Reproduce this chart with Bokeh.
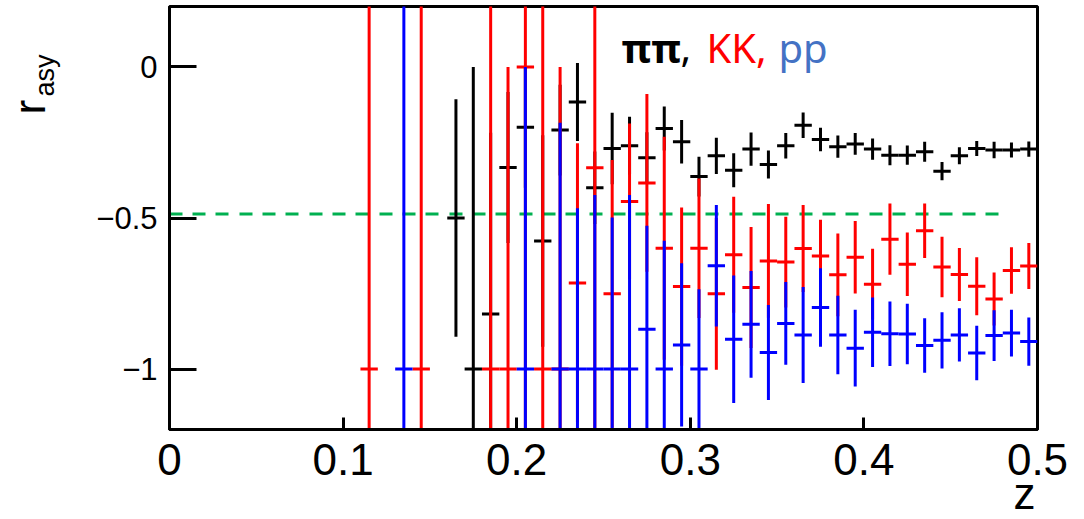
import numpy as np
from bokeh.plotting import figure
from bokeh.models import Range1d, FixedTicker, Label, ColumnDataSource
from bokeh.embed import file_html
from bokeh.resources import INLINE

# ---------------- data ----------------
BIN_HALF = 0.005

pipi_z = [0.165, 0.175, 0.185, 0.195, 0.205, 0.215, 0.225, 0.235, 0.245, 0.255,
          0.265, 0.275, 0.285, 0.295, 0.305, 0.315, 0.325, 0.335, 0.345, 0.355,
          0.365, 0.375, 0.385, 0.395, 0.405, 0.415, 0.425, 0.435, 0.445, 0.455,
          0.465, 0.475, 0.485, 0.495]
pipi_r = [-0.500, -1.000, -0.818, -0.333, -0.200, -0.576, -0.209, -0.116, -0.400, -0.270,
          -0.261, -0.301, -0.204, -0.248, -0.363, -0.294, -0.342, -0.272, -0.323, -0.261,
          -0.193, -0.240, -0.264, -0.255, -0.272, -0.292, -0.292, -0.281, -0.345, -0.294,
          -0.270, -0.275, -0.275, -0.272]
pipi_e = [0.393, 1.000, 0.600, 0.250, 0.200, 0.350, 0.150, 0.129, 0.120, 0.118,
          0.096, 0.085, 0.073, 0.072, 0.066, 0.060, 0.056, 0.055, 0.046, 0.042,
          0.042, 0.039, 0.037, 0.036, 0.035, 0.033, 0.032, 0.033, 0.030, 0.028,
          0.025, 0.027, 0.025, 0.025]

kk_z = [0.115, 0.145, 0.185, 0.195, 0.205, 0.215, 0.225, 0.235, 0.245, 0.255,
        0.265, 0.275, 0.285, 0.295, 0.305, 0.315, 0.325, 0.335, 0.345, 0.355,
        0.365, 0.375, 0.385, 0.395, 0.405, 0.415, 0.425, 0.435, 0.445, 0.455,
        0.465, 0.475, 0.485, 0.495]
kk_r = [-1.000, -1.000, -1.000, -1.000, 0.000, -1.000, -1.000, -0.715, -0.334, -0.751,
        -0.445, -0.384, -0.600, -0.727, -0.600, -0.751, -0.622, -0.730, -0.642, -0.646,
        -0.601, -0.626, -0.688, -0.630, -0.719, -0.570, -0.653, -0.542, -0.662, -0.687,
        -0.726, -0.768, -0.674, -0.659]
kk_e = [1.500, 1.500, 1.500, 1.000, 1.300, 1.500, 1.000, 0.462, 0.900, 0.443,
        0.258, 0.294, 0.369, 0.262, 0.231, 0.251, 0.192, 0.200, 0.188, 0.150,
        0.144, 0.120, 0.137, 0.120, 0.117, 0.118, 0.105, 0.090, 0.100, 0.088,
        0.096, 0.088, 0.077, 0.076]

pp_z = [0.135, 0.205, 0.225, 0.235, 0.245, 0.255, 0.265, 0.275, 0.285, 0.295,
        0.305, 0.315, 0.325, 0.335, 0.345, 0.355, 0.365, 0.375, 0.385, 0.395,
        0.405, 0.415, 0.425, 0.435, 0.445, 0.455, 0.465, 0.475, 0.485, 0.495]
pp_r = [-1.000, -1.000, -1.000, -1.000, -1.000, -1.000, -1.000, -0.868, -1.000, -0.920,
        -1.000, -0.658, -0.901, -0.852, -0.945, -0.849, -0.887, -0.796, -0.887, -0.931,
        -0.878, -0.883, -0.884, -0.922, -0.905, -0.887, -0.947, -0.889, -0.881, -0.909]
pp_e = [1.500, 1.000, 0.815, 0.532, 0.576, 0.502, 0.576, 0.342, 0.425, 0.270,
        0.264, 0.201, 0.211, 0.177, 0.157, 0.137, 0.159, 0.130, 0.130, 0.127,
        0.115, 0.107, 0.100, 0.090, 0.093, 0.088, 0.090, 0.084, 0.077, 0.080]

ref_z = [0.0, 0.48]
ref_r = [-0.487, -0.487]

x_ticks = [0.0, 0.1, 0.2, 0.3, 0.4, 0.5]
x_tick_labels = ["0", "0.1", "0.2", "0.3", "0.4", "0.5"]
y_ticks = [-1.0, -0.5, 0.0]
y_tick_labels = ["\u22121", "\u22120.5", "0"]

# ---------------- figure ----------------
p = figure(width=1080, height=517, output_backend="svg", toolbar_location=None,
           x_range=Range1d(0, 0.5), y_range=Range1d(-1.2, 0.2),
           min_border_left=169, min_border_right=43, min_border_top=6,
           min_border_bottom=88)
p.grid.visible = False
p.outline_line_color = "black"
p.outline_line_width = 3
p.outline_line_alpha = 1.0
p.background_fill_color = "white"
p.border_fill_color = "white"

xa = p.xaxis[0]
xa.ticker = FixedTicker(ticks=x_ticks)
xa.major_label_overrides = {t: l for t, l in zip(x_ticks, x_tick_labels)}
xa.major_tick_in = 12
xa.major_tick_out = 0
xa.minor_tick_line_color = None
xa.axis_line_width = 3
xa.major_tick_line_width = 3
xa.major_label_text_font = "Liberation Sans"
xa.major_label_text_font_size = "44px"
xa.major_label_text_color = "black"
xa.major_label_standoff = 14

ya = p.yaxis[0]
ya.ticker = FixedTicker(ticks=y_ticks)
ya.major_label_overrides = {t: l for t, l in zip(y_ticks, y_tick_labels)}
ya.major_tick_in = 27
ya.major_tick_out = 0
ya.minor_tick_line_color = None
ya.axis_line_width = 3
ya.major_tick_line_width = 3
ya.major_label_text_font = "Liberation Sans"
ya.major_label_text_font_size = "31px"
ya.major_label_text_color = "black"
ya.major_label_standoff = 12

# reference dashed line
p.line(x=ref_z, y=ref_r, line_color="#00B050", line_width=3,
       line_dash="13 10 13 10 13 11")


def draw_series(z, r, e, color):
    z = np.array(z)
    r = np.array(r)
    e = np.array(e)
    src = ColumnDataSource(dict(z=z, r=r, lo=r - e, hi=r + e,
                                zl=z - BIN_HALF, zr=z + BIN_HALF))
    p.segment(x0="z", y0="lo", x1="z", y1="hi", source=src,
              line_color=color, line_width=3)
    p.segment(x0="zl", y0="r", x1="zr", y1="r", source=src,
              line_color=color, line_width=3)


draw_series(pipi_z, pipi_r, pipi_e, "black")
draw_series(kk_z, kk_r, kk_e, "#FF0000")
draw_series(pp_z, pp_r, pp_e, "#0000FF")

# legend text (inside the frame)
leg_font = "Noto Sans"
p.add_layout(Label(x=0.2604, y=0.0643, text="ππ", text_font=leg_font,
                   text_font_style="bold", text_font_size="40px", text_color="black",
                   text_baseline="alphabetic", text_align="left"))
p.add_layout(Label(x=0.2944, y=0.0643, text=",", text_font=leg_font,
                   text_font_size="40px", text_color="black",
                   text_baseline="alphabetic", text_align="left"))
p.add_layout(Label(x=0.3093, y=0.0643, text="KK,", text_font=leg_font,
                   text_font_size="40px", text_color="#FF0000",
                   text_baseline="alphabetic", text_align="left"))
p.add_layout(Label(x=0.3508, y=0.0643, text="pp", text_font=leg_font,
                   text_font_size="40px", text_color="#4472C4",
                   text_baseline="alphabetic", text_align="left"))

# axis titles (in side panels so they are not clipped by the frame)
p.add_layout(Label(x=0.4989, y=-1.412, text="z", text_font="Liberation Sans",
                   text_font_size="44px", text_color="black",
                   text_baseline="alphabetic", text_align="right"), "right")
p.add_layout(Label(x=-0.0717, y=-0.0979, text="asy", text_font="Liberation Sans",
                   text_font_size="27px", text_color="black",
                   angle=-1.5 * np.pi,
                   text_baseline="alphabetic", text_align="left"), "left")
p.add_layout(Label(x=-0.0806, y=-0.1575, text="r", text_font="Liberation Sans",
                   text_font_size="44px", text_color="black",
                   angle=90, angle_units="deg",
                   text_baseline="alphabetic", text_align="left"), "left")

open("out.html", "w").write(file_html(p, INLINE))
